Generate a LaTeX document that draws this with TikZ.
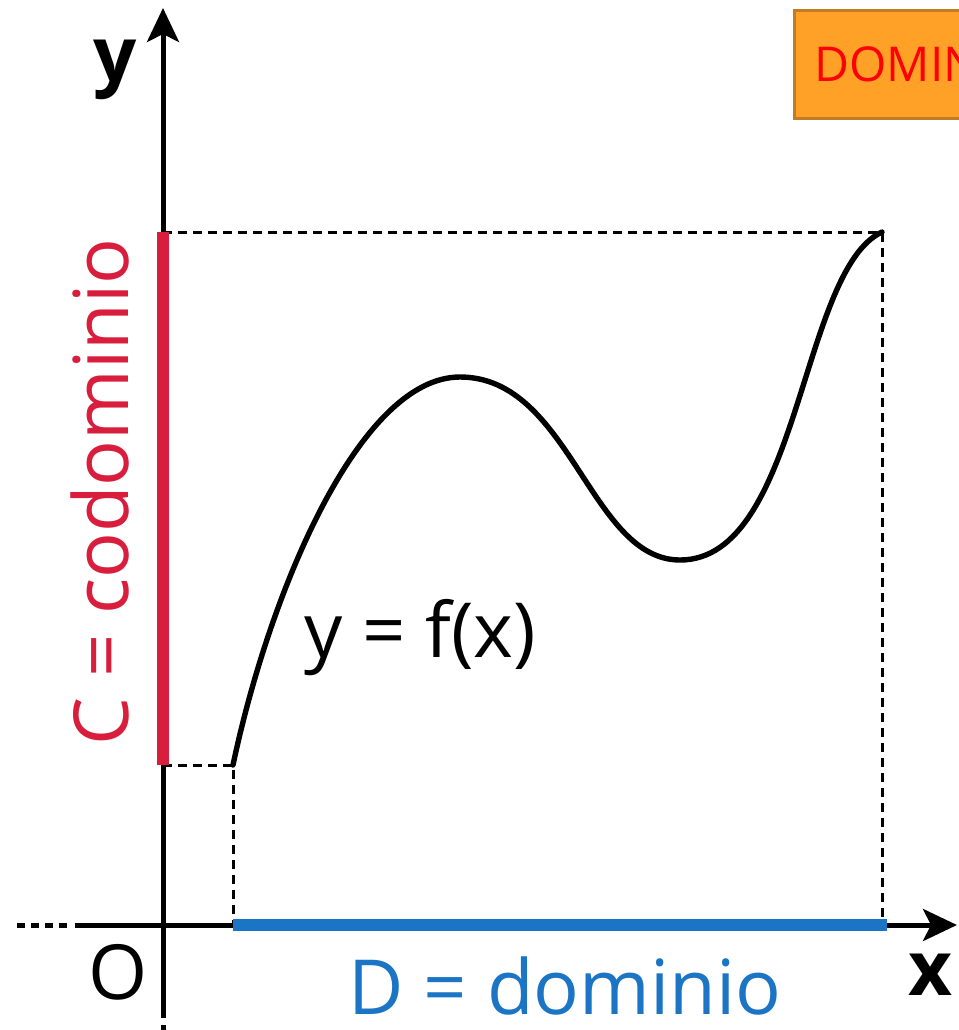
\documentclass[tikz,border=0pt]{standalone}
\usepackage{fontspec}
\setmainfont{Open Sans}
\usetikzlibrary{arrows.meta}
\definecolor{codred}{HTML}{D81E3C}
\definecolor{domblue}{HTML}{1C74C4}
\definecolor{boxorange}{HTML}{FFA126}
\definecolor{boxedge}{HTML}{C27B22}
\begin{document}
\begin{tikzpicture}[
  x=0.5pt, y=-0.5pt,
  axis/.style={line width=2.5pt, -{Stealth[length=17pt, width=16pt, inset=4pt]}},
  axisdash/.style={line width=2.5pt, dash pattern=on 4pt off 3pt},
  guide/.style={line width=1.5pt, dash pattern=on 4.5pt off 3pt},
  bar/.style={line width=6pt},
  big/.style={font=\fontsize{38}{40}\selectfont, inner sep=0pt},
  axlabel/.style={big, font=\fontsize{38}{40}\selectfont\bfseries},
  title/.style={draw=boxedge, line width=1.5pt, fill=boxorange, text=red, anchor=north west,
    font=\fontsize{24}{26}\selectfont, minimum height=54pt,
    align=left, text width=110pt, inner xsep=10pt}]
  \useasboundingbox (0,0) rectangle (959,1030);
  \clip (0,0) rectangle (959,1030);
  \node[title] (box) at (793,9) {DOMIN};
  \coordinate (O) at (163,925);
  \coordinate (xtail) at (17,925);
  \coordinate (xstart) at (75,925);
  \coordinate (xend) at (957,925);
  \coordinate (ytail) at (163,1040);
  \coordinate (ystart) at (163,1018);
  \coordinate (yend) at (163,8);
  \coordinate (lo) at (233,765);
  \coordinate (hi) at (882,232);
  \coordinate (top) at (460,377);
  \coordinate (bottom) at (680,560);
  \coordinate (clo) at (163,765);
  \coordinate (chi) at (163,232);
  \coordinate (dlo) at (233,925);
  \coordinate (dhi) at (887,925);
  \draw[guide] (clo) -- (lo) -- (dlo);
  \draw[guide] (chi) -- (hi) -- (hi |- O);
  \draw[axisdash] (xtail) -- (72,925);
  \draw[axis] (xstart) -- (xend);
  \draw[axisdash] (163,1025) -- (ytail);
  \draw[axis] (ystart) -- (yend);
  \draw[bar, codred] (clo) -- (chi);
  \draw[bar, domblue] (dlo) -- (dhi);
  \draw[line width=2.7pt, line cap=round] (lo) .. controls (270,590) and (360,377) .. (top)
    .. controls (570,377) and (590,560) .. (bottom)
    .. controls (800,560) and (800,270) .. (hi);
  \node[axlabel] (ylab) at (115,70) {y};
  \node[axlabel] (xlab) at (930,975) {x};
  \node[big] (olab) at (118,972) {O};
  \node[big, text=domblue] (dlab) at (565,986) {D = dominio};
  \node[big, text=codred, rotate=90] (clab) at (100,492) {C = codominio};
  \node[big] (flab) at (420,638) {y = f(x)};
\end{tikzpicture}
\end{document}
